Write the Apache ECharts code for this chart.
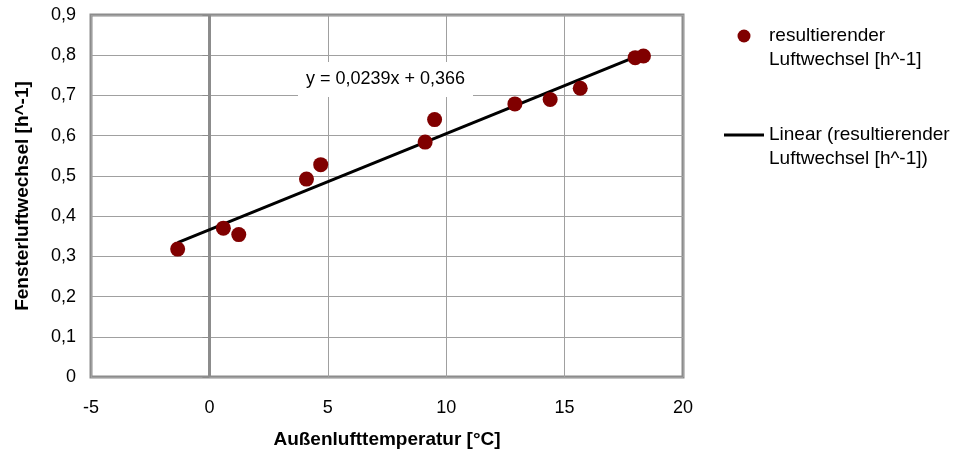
<!DOCTYPE html>
<html>
<head>
<meta charset="utf-8">
<script src="https://cdn.jsdelivr.net/npm/echarts@6/dist/echarts.min.js"></script>
<style>html,body{margin:0;padding:0;background:#fff}#c{width:969px;height:454px}</style>
</head>
<body>
<div id="c"></div>
<script>
const temperature = [-1.34, 0.59, 1.24, 4.10, 4.70, 9.11, 9.51, 12.90, 14.39, 15.66, 17.98, 18.33];
const airChange   = [0.318, 0.370, 0.354, 0.492, 0.528, 0.584, 0.640, 0.679, 0.690, 0.718, 0.794, 0.798];
const trendSlope = 0.0239;
const trendIntercept = 0.366;
const seriesName = 'resultierender\nLuftwechsel [h^-1]';
const trendName = 'Linear (resultierender\nLuftwechsel [h^-1])';
const equationText = 'y = 0,0239x + 0,366';
const xTitle = 'Außenlufttemperatur [°C]';
const yTitle = 'Fensterluftwechsel [h^-1]';

const points = temperature.map((t, i) => [t, airChange[i]]);
const xMin = Math.min(...temperature), xMax = Math.max(...temperature);
const trend = [[xMin, trendSlope * xMin + trendIntercept], [xMax, trendSlope * xMax + trendIntercept]];

const font = '"Liberation Sans", Arial, sans-serif';
const chart = echarts.init(document.getElementById('c'));
chart.setOption({
  animation: false,
  textStyle: {fontFamily: font},
  grid: {left: 91, right: 286, top: 15, bottom: 77, show: true, borderColor: '#8c8c8c', borderWidth: 3, backgroundColor: '#fff'},
  xAxis: {
    type: 'value', min: -5, max: 20, interval: 5,
    name: xTitle, nameLocation: 'middle', nameGap: 53,
    nameTextStyle: {fontFamily: font, fontSize: 19, fontWeight: 'bold', color: '#000'},
    axisLine: {show: false}, axisTick: {show: false},
    axisLabel: {fontFamily: font, fontSize: 18, color: '#000', margin: 22},
    splitLine: {show: true, lineStyle: {color: '#a0a0a0', width: 1}}
  },
  yAxis: {
    type: 'value', min: 0, max: 0.9, interval: 0.1,
    name: yTitle, nameLocation: 'middle', nameGap: 59, nameRotate: 90,
    nameTextStyle: {fontFamily: font, fontSize: 19, fontWeight: 'bold', color: '#000'},
    axisLine: {show: false},
    axisTick: {show: true, inside: false, length: 7, lineStyle: {color: '#8c8c8c', width: 1}},
    axisLabel: {fontFamily: font, fontSize: 18, color: '#000', margin: 15,
      formatter: v => (Math.round(v * 10) / 10).toString().replace('.', ',')},
    splitLine: {show: true, lineStyle: {color: '#a0a0a0', width: 1}}
  },
  legend: {
    orient: 'vertical', left: 724, top: 0, padding: 0, itemWidth: 40, itemHeight: 13, itemGap: 27,
    selectedMode: false,
    formatter: name => '\n' + name,
    textStyle: {fontFamily: font, fontSize: 19, color: '#000', lineHeight: 24},
    data: [
      {name: seriesName, icon: 'circle', itemStyle: {color: '#800000'}},
      {name: trendName, icon: 'path://M0,0H40V3H0Z', itemStyle: {color: '#000'}}
    ]
  },
  series: [
    {
      name: trendName, type: 'line', data: trend, symbol: 'none', z: 3,
      lineStyle: {color: '#000', width: 3}, itemStyle: {color: '#000'},
      markLine: {
        silent: true, symbol: 'none', label: {show: false}, z: 1,
        lineStyle: {color: '#8c8c8c', width: 3, type: 'solid'},
        data: [{xAxis: 0}]
      }
    },
    {
      name: seriesName, type: 'scatter', data: points, symbol: 'circle', symbolSize: 15, z: 4,
      itemStyle: {color: '#800000', opacity: 1}
    }
  ],
  graphic: [{
    type: 'text', left: 298, top: 62, z: 10,
    style: {text: equationText, font: '18px ' + font, fill: '#000',
      backgroundColor: '#fff', padding: [8, 8, 9, 8], width: 159, align: 'center'}
  }]
});
</script>
</body>
</html>
